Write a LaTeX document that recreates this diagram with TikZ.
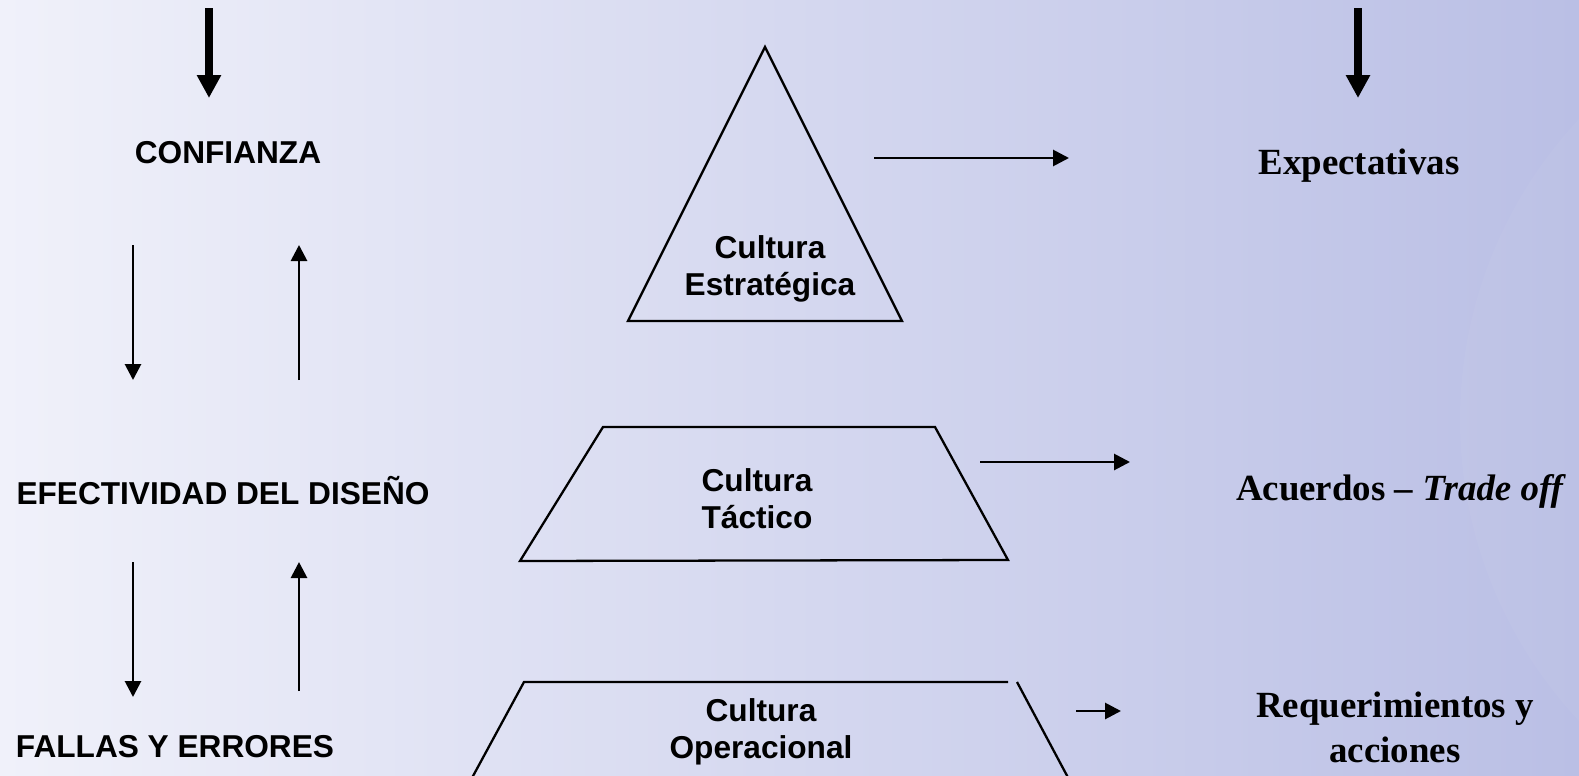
\documentclass[tikz,border=0pt]{standalone}
\usepackage{fontspec}
\setmainfont{Liberation Serif}
\setsansfont{Liberation Sans}
\definecolor{bgleft}{RGB}{240, 241, 250}
\definecolor{bgmid}{RGB}{211, 215, 238}
\definecolor{bgright}{RGB}{186, 191, 229}
\usetikzlibrary{arrows.meta, calc}

\begin{document}
\begin{tikzpicture}[
    culture/.style={font=\sffamily\bfseries\fontsize{18}{21}\selectfont, align=center, inner sep=0pt},
    leftlabel/.style={font=\sffamily\bfseries\fontsize{18}{21}\selectfont, inner sep=0pt},
    rightlabel/.style={font=\bfseries\fontsize{21}{25.5}\selectfont, align=center, inner sep=0pt},
    outline/.style={line width=1.3pt, line join=miter},
    bigarrow/.style={line width=4.5pt, -{Triangle[width=0.46cm, length=0.46cm]}},
    thinarrow/.style={line width=1.6pt, -{Triangle[width=0.32cm, length=0.32cm]}}
  ]
  % Background
  \useasboundingbox (0, 0) rectangle (31.58, -15.5);
  \shade[left color=bgleft, middle color=bgmid, right color=bgright] (0, 0) rectangle (31.58, -15.5);
  \begin{scope}
    \clip (0, 0) rectangle (31.58, -15.5);
    \fill[white, opacity=0.035] (38, -8.4) circle (8.8);

    % Pyramid
    \draw[outline] (15.3, -0.94) -- (18.04, -6.42) -- (12.56, -6.42) -- cycle;
    \draw[outline] (12.06, -8.54) -- (18.7, -8.54) -- (20.16, -11.2) -- (10.4, -11.22) -- cycle;
    \draw[outline] (9.2, -16) -- (10.48, -13.64) -- (20.16, -13.64);
    \draw[outline] (20.34, -13.64) -- (21.6, -16);
  \end{scope}

  % Culture levels
  \node[culture] (estrat) at (15.4, -5.37) {Cultura\\Estratégica};
  \node[culture] (tact) at (15.14, -9.98) {Cultura\\Táctico};
  \node[culture] (oper) at (15.22, -14.63) {Cultura\\Operacional};

  % Left column
  \node[leftlabel] (confianza) at (4.56, -3.06) {CONFIANZA};
  \node[leftlabel] (efectividad) at (4.46, -9.82) {EFECTIVIDAD DEL DISEÑO};
  \node[leftlabel] (fallas) at (3.5, -14.94) {FALLAS Y ERRORES};

  % Right column
  \node[rightlabel] (expect) at (27.18, -3.32) {Expectativas};
  \node[rightlabel] (acuerdos) at (28.02, -9.82) {Acuerdos -- \textit{Trade off}};
  \node[rightlabel] (requer) at (27.9, -14.55) {Requerimientos y\\acciones};

  % Arrow ends
  \coordinate (lefttop) at (4.18, -0.16);
  \coordinate (lefthead) at (4.18, -1.96);
  \coordinate (righttop) at (27.16, -0.16);
  \coordinate (righthead) at (27.16, -1.96);
  \coordinate (downA) at (2.66, -4.9);
  \coordinate (downAend) at (2.66, -7.6);
  \coordinate (upA) at (5.98, -7.6);
  \coordinate (upAend) at (5.98, -4.9);
  \coordinate (downB) at (2.66, -11.24);
  \coordinate (downBend) at (2.66, -13.94);
  \coordinate (upB) at (5.98, -13.82);
  \coordinate (upBend) at (5.98, -11.24);
  \coordinate (estratout) at (17.48, -3.16);
  \coordinate (expectin) at (21.38, -3.16);
  \coordinate (tactout) at (19.6, -9.24);
  \coordinate (acuerdosin) at (22.6, -9.24);
  \coordinate (operout) at (21.52, -14.22);
  \coordinate (requerin) at (22.42, -14.22);

  % Arrows
  \draw[bigarrow] (lefttop) -- (lefthead);
  \draw[bigarrow] (righttop) -- (righthead);
  \draw[thinarrow] (downA) -- (downAend);
  \draw[thinarrow] (upA) -- (upAend);
  \draw[thinarrow] (downB) -- (downBend);
  \draw[thinarrow] (upB) -- (upBend);
  \draw[thinarrow] (estratout) -- (expectin);
  \draw[thinarrow] (tactout) -- (acuerdosin);
  \draw[thinarrow] (operout) -- (requerin);
\end{tikzpicture}
\end{document}
